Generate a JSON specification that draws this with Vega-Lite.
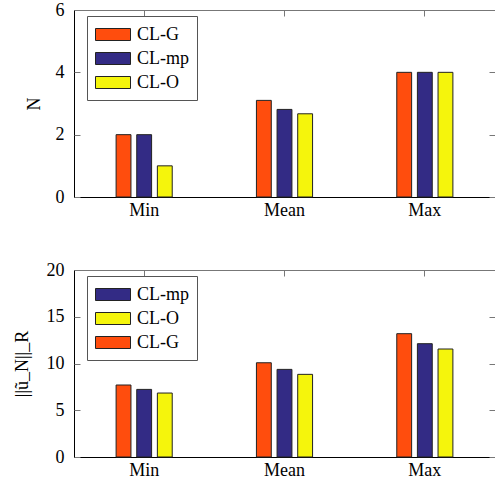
{
  "$schema": "https://vega.github.io/schema/vega-lite/v6.json",
  "padding": {"left": 12, "top": 0, "right": 0, "bottom": 0},
  "datasets": {
    "counts": [
      {"stat": "Min", "method": "CL-G", "value": 2},
      {"stat": "Min", "method": "CL-mp", "value": 2},
      {"stat": "Min", "method": "CL-O", "value": 1},
      {"stat": "Mean", "method": "CL-G", "value": 3.1},
      {"stat": "Mean", "method": "CL-mp", "value": 2.81},
      {"stat": "Mean", "method": "CL-O", "value": 2.67},
      {"stat": "Max", "method": "CL-G", "value": 4},
      {"stat": "Max", "method": "CL-mp", "value": 4},
      {"stat": "Max", "method": "CL-O", "value": 4}
    ],
    "norms": [
      {"stat": "Min", "method": "CL-G", "value": 7.7},
      {"stat": "Min", "method": "CL-mp", "value": 7.23},
      {"stat": "Min", "method": "CL-O", "value": 6.84},
      {"stat": "Mean", "method": "CL-G", "value": 10.08},
      {"stat": "Mean", "method": "CL-mp", "value": 9.37},
      {"stat": "Mean", "method": "CL-O", "value": 8.84},
      {"stat": "Max", "method": "CL-G", "value": 13.19},
      {"stat": "Max", "method": "CL-mp", "value": 12.12},
      {"stat": "Max", "method": "CL-O", "value": 11.55}
    ]
  },
  "spacing": 73,
  "bounds": "flush",
  "resolve": {"scale": {"color": "independent", "y": "independent"}, "legend": {"color": "independent"}},
  "vconcat": [
    {
      "width": 421,
      "height": 187,
      "data": {"name": "counts"},
      "layer": [
        {
          "mark": {"type": "bar", "stroke": "#222", "strokeWidth": 1},
          "encoding": {
            "x": {"field": "stat", "type": "nominal", "sort": ["Min", "Mean", "Max"], "scale": {"paddingInner": 0.6, "paddingOuter": 0.3}, "axis": {"orient": "bottom", "title": null, "labelAngle": 0, "ticks": false, "labelPadding": 4}},
            "xOffset": {"field": "method", "type": "nominal", "sort": ["CL-G", "CL-mp", "CL-O"], "scale": {"paddingInner": 0.28, "paddingOuter": 0}},
            "y": {"field": "value", "type": "quantitative", "stack": null, "scale": {"domain": [0, 6], "nice": false}, "axis": {"orient": "left", "title": "N", "values": [0, 2, 4, 6], "ticks": false, "grid": false, "labelPadding": 10, "titlePadding": 12}},
            "color": {"field": "method", "type": "nominal", "scale": {"domain": ["CL-G", "CL-mp", "CL-O"], "range": ["#FF4D0D", "#332B85", "#F5F50C"]}, "legend": {"orient": "none", "legendX": 13, "legendY": 6}}
          }
        },
        {
          "mark": {"type": "bar", "opacity": 0},
          "encoding": {
            "x": {"field": "stat", "type": "nominal", "sort": ["Min", "Mean", "Max"], "axis": {"orient": "top", "labels": false, "domain": false, "title": null, "tickSize": -6, "tickColor": "#777"}},
            "y": {"field": "value", "type": "quantitative", "stack": null, "axis": {"orient": "right", "labels": false, "domain": false, "title": null, "grid": false, "values": [0, 2, 4, 6], "tickSize": -6, "tickColor": "#777"}}
          }
        },
        {
          "mark": {"type": "bar", "opacity": 0},
          "encoding": {
            "x": {"field": "stat", "type": "nominal", "sort": ["Min", "Mean", "Max"], "axis": null},
            "y": {"field": "value", "type": "quantitative", "stack": null, "axis": {"orient": "left", "labels": false, "domain": false, "title": null, "grid": false, "values": [0, 2, 4, 6], "tickSize": -6, "tickColor": "#777"}}
          }
        }
      ],
      "resolve": {"axis": {"x": "independent", "y": "independent"}}
    },
    {
      "width": 421,
      "height": 187,
      "data": {"name": "norms"},
      "layer": [
        {
          "mark": {"type": "bar", "stroke": "#222", "strokeWidth": 1},
          "encoding": {
            "x": {"field": "stat", "type": "nominal", "sort": ["Min", "Mean", "Max"], "scale": {"paddingInner": 0.6, "paddingOuter": 0.3}, "axis": {"orient": "bottom", "title": null, "labelAngle": 0, "ticks": false, "labelPadding": 4}},
            "xOffset": {"field": "method", "type": "nominal", "sort": ["CL-G", "CL-mp", "CL-O"], "scale": {"paddingInner": 0.28, "paddingOuter": 0}},
            "y": {"field": "value", "type": "quantitative", "stack": null, "scale": {"domain": [0, 20], "nice": false}, "axis": {"orient": "left", "title": "||ũ_N||_R", "values": [0, 5, 10, 15, 20], "ticks": false, "grid": false, "labelPadding": 10, "titlePadding": 15}},
            "color": {"field": "method", "type": "nominal", "scale": {"domain": ["CL-mp", "CL-O", "CL-G"], "range": ["#332B85", "#F5F50C", "#FF4D0D"]}, "legend": {"orient": "none", "legendX": 13, "legendY": 6}}
          }
        },
        {
          "mark": {"type": "bar", "opacity": 0},
          "encoding": {
            "x": {"field": "stat", "type": "nominal", "sort": ["Min", "Mean", "Max"], "axis": {"orient": "top", "labels": false, "domain": false, "title": null, "tickSize": -6, "tickColor": "#777"}},
            "y": {"field": "value", "type": "quantitative", "stack": null, "axis": {"orient": "right", "labels": false, "domain": false, "title": null, "grid": false, "values": [0, 5, 10, 15, 20], "tickSize": -6, "tickColor": "#777"}}
          }
        },
        {
          "mark": {"type": "bar", "opacity": 0},
          "encoding": {
            "x": {"field": "stat", "type": "nominal", "sort": ["Min", "Mean", "Max"], "axis": null},
            "y": {"field": "value", "type": "quantitative", "stack": null, "axis": {"orient": "left", "labels": false, "domain": false, "title": null, "grid": false, "values": [0, 5, 10, 15, 20], "tickSize": -6, "tickColor": "#777"}}
          }
        }
      ],
      "resolve": {"axis": {"x": "independent", "y": "independent"}}
    }
  ],
  "config": {
    "view": {"stroke": "#777", "strokeWidth": 1},
    "font": "Liberation Serif",
    "axis": {
      "labelFont": "Liberation Serif", "labelFontSize": 18, "labelColor": "#000",
      "titleFont": "Liberation Serif", "titleFontSize": 18, "titleFontWeight": "normal", "titleColor": "#000",
      "domainColor": "#000", "domainWidth": 1
    },
    "legend": {
      "title": null,
      "fillColor": "white",
      "strokeColor": "#555",
      "padding": 8,
      "symbolType": "M-1.75,-0.6H1.75V0.6H-1.75Z",
      "symbolSize": 400,
      "symbolOffset": 7.5,
      "symbolStrokeColor": "#222",
      "symbolStrokeWidth": 1,
      "symbolOpacity": 1,
      "labelFont": "Liberation Serif",
      "labelFontSize": 18,
      "labelColor": "#000",
      "labelOffset": 13.5,
      "rowPadding": 4
    }
  }
}
